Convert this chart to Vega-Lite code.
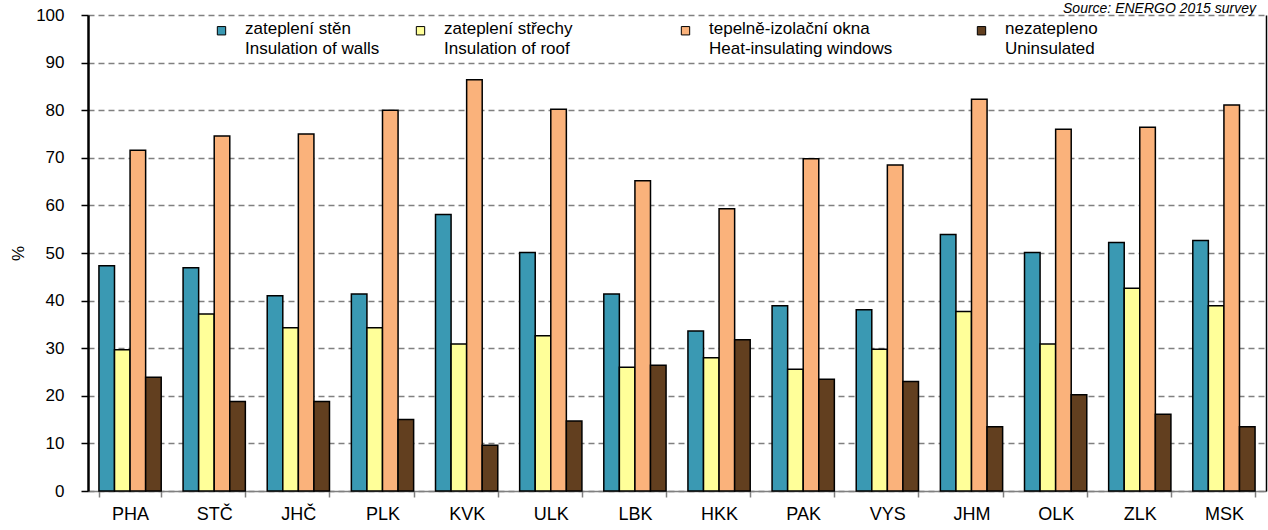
{
  "$schema": "https://vega.github.io/schema/vega-lite/v6.json",
  "width": 1178,
  "height": 476,
  "autosize": {"type": "none"},
  "padding": {"left": 88, "top": 15, "right": 2, "bottom": 39},
  "title": {
    "text": "Source: ENERGO 2015 survey",
    "anchor": "end",
    "frame": "group",
    "fontStyle": "italic",
    "fontWeight": "normal",
    "fontSize": 14,
    "color": "black",
    "offset": 1,
    "dx": -10,
    "dy": 11
  },
  "data": {
    "values": [
      {"region": "PHA", "series": "zateplení stěn", "value": 47.3},
      {"region": "PHA", "series": "zateplení střechy", "value": 29.7},
      {"region": "PHA", "series": "tepelně-izolační okna", "value": 71.6},
      {"region": "PHA", "series": "nezatepleno", "value": 23.9},
      {"region": "STČ", "series": "zateplení stěn", "value": 46.9},
      {"region": "STČ", "series": "zateplení střechy", "value": 37.2},
      {"region": "STČ", "series": "tepelně-izolační okna", "value": 74.6},
      {"region": "STČ", "series": "nezatepleno", "value": 18.8},
      {"region": "JHČ", "series": "zateplení stěn", "value": 41.0},
      {"region": "JHČ", "series": "zateplení střechy", "value": 34.3},
      {"region": "JHČ", "series": "tepelně-izolační okna", "value": 75.0},
      {"region": "JHČ", "series": "nezatepleno", "value": 18.8},
      {"region": "PLK", "series": "zateplení stěn", "value": 41.4},
      {"region": "PLK", "series": "zateplení střechy", "value": 34.3},
      {"region": "PLK", "series": "tepelně-izolační okna", "value": 80.0},
      {"region": "PLK", "series": "nezatepleno", "value": 15.0},
      {"region": "KVK", "series": "zateplení stěn", "value": 58.1},
      {"region": "KVK", "series": "zateplení střechy", "value": 30.9},
      {"region": "KVK", "series": "tepelně-izolační okna", "value": 86.4},
      {"region": "KVK", "series": "nezatepleno", "value": 9.6},
      {"region": "ULK", "series": "zateplení stěn", "value": 50.1},
      {"region": "ULK", "series": "zateplení střechy", "value": 32.6},
      {"region": "ULK", "series": "tepelně-izolační okna", "value": 80.2},
      {"region": "ULK", "series": "nezatepleno", "value": 14.7},
      {"region": "LBK", "series": "zateplení stěn", "value": 41.4},
      {"region": "LBK", "series": "zateplení střechy", "value": 26.0},
      {"region": "LBK", "series": "tepelně-izolační okna", "value": 65.2},
      {"region": "LBK", "series": "nezatepleno", "value": 26.4},
      {"region": "HKK", "series": "zateplení stěn", "value": 33.6},
      {"region": "HKK", "series": "zateplení střechy", "value": 28.0},
      {"region": "HKK", "series": "tepelně-izolační okna", "value": 59.3},
      {"region": "HKK", "series": "nezatepleno", "value": 31.8},
      {"region": "PAK", "series": "zateplení stěn", "value": 38.9},
      {"region": "PAK", "series": "zateplení střechy", "value": 25.6},
      {"region": "PAK", "series": "tepelně-izolační okna", "value": 69.8},
      {"region": "PAK", "series": "nezatepleno", "value": 23.5},
      {"region": "VYS", "series": "zateplení stěn", "value": 38.1},
      {"region": "VYS", "series": "zateplení střechy", "value": 29.8},
      {"region": "VYS", "series": "tepelně-izolační okna", "value": 68.5},
      {"region": "VYS", "series": "nezatepleno", "value": 23.0},
      {"region": "JHM", "series": "zateplení stěn", "value": 53.9},
      {"region": "JHM", "series": "zateplení střechy", "value": 37.7},
      {"region": "JHM", "series": "tepelně-izolační okna", "value": 82.3},
      {"region": "JHM", "series": "nezatepleno", "value": 13.5},
      {"region": "OLK", "series": "zateplení stěn", "value": 50.1},
      {"region": "OLK", "series": "zateplení střechy", "value": 30.9},
      {"region": "OLK", "series": "tepelně-izolační okna", "value": 76.0},
      {"region": "OLK", "series": "nezatepleno", "value": 20.2},
      {"region": "ZLK", "series": "zateplení stěn", "value": 52.2},
      {"region": "ZLK", "series": "zateplení střechy", "value": 42.6},
      {"region": "ZLK", "series": "tepelně-izolační okna", "value": 76.4},
      {"region": "ZLK", "series": "nezatepleno", "value": 16.1},
      {"region": "MSK", "series": "zateplení stěn", "value": 52.6},
      {"region": "MSK", "series": "zateplení střechy", "value": 38.9},
      {"region": "MSK", "series": "tepelně-izolační okna", "value": 81.1},
      {"region": "MSK", "series": "nezatepleno", "value": 13.5}
    ]
  },
  "layer": [
    {
      "mark": {"type": "bar", "stroke": "black", "strokeWidth": 1.5, "strokeJoin": "miter"},
      "encoding": {
        "x": {
          "field": "region",
          "type": "nominal",
          "sort": null,
          "scale": {"paddingInner": 0.26, "paddingOuter": 0.13},
          "axis": {
            "title": null,
            "labelAngle": 0,
            "labelFontSize": 18,
            "labelColor": "black",
            "labelPadding": 8,
            "domainColor": "#808080",
            "domainWidth": 1.5,
            "tickColor": "#808080",
            "tickWidth": 1.5,
            "tickSize": 6,
            "tickBand": "extent",
            "grid": false
          }
        },
        "xOffset": {
          "field": "series",
          "type": "nominal",
          "sort": ["zateplení stěn", "zateplení střechy", "tepelně-izolační okna", "nezatepleno"],
          "scale": {"paddingInner": 0, "paddingOuter": 0}
        },
        "y": {
          "field": "value",
          "type": "quantitative",
          "scale": {"domain": [0, 100], "nice": false},
          "axis": {
            "title": "%",
            "titleFontSize": 17,
            "titleFontWeight": "normal",
            "titleColor": "black",
            "titlePadding": 8,
            "values": [0, 10, 20, 30, 40, 50, 60, 70, 80, 90, 100],
            "labelFontSize": 17,
            "labelColor": "black",
            "labelPadding": 17,
            "domainColor": "black",
            "domainWidth": 2.5,
            "tickColor": "black",
            "tickWidth": 1.5,
            "tickSize": 7,
            "grid": true,
            "gridColor": "#808080",
            "gridWidth": 1.5,
            "gridDash": [6, 4]
          }
        },
        "color": {
          "field": "series",
          "type": "nominal",
          "sort": ["zateplení stěn", "zateplení střechy", "tepelně-izolační okna", "nezatepleno"],
          "scale": {
            "domain": ["zateplení stěn", "zateplení střechy", "tepelně-izolační okna", "nezatepleno"],
            "range": ["#3A99B3", "#FFFF99", "#FAB27B", "#623F1F"]
          },
          "legend": {
            "orient": "none",
            "legendX": 125,
            "legendY": 7,
            "direction": "horizontal",
            "columns": 4,
            "title": null,
            "padding": 0,
            "symbolType": "square",
            "symbolSize": 70,
            "symbolStrokeColor": "black",
            "symbolStrokeWidth": 1,
            "labelFontSize": 17,
            "labelColor": "black",
            "labelOffset": 15,
            "labelLimit": 400,
            "labelBaseline": "top",
            "columnPadding": 32,
            "labelExpr": "datum.label == 'zateplení stěn' ? ['zateplení stěn', 'Insulation of walls'] : datum.label == 'zateplení střechy' ? ['zateplení střechy\u2800\u2800\u2800\u2800\u2800\u2800', 'Insulation of roof'] : datum.label == 'tepelně-izolační okna' ? ['tepelně-izolační okna', 'Heat-insulating windows\u2800\u2800\u2800\u2800'] : ['nezatepleno', 'Uninsulated']",
            "encode": {
              "labels": {"update": {"lineHeight": {"value": 20}, "dy": {"value": -10}}}
            }
          }
        }
      }
    },
    {
      "mark": {"type": "tick", "opacity": 0},
      "encoding": {
        "y": {
          "field": "value",
          "type": "quantitative",
          "scale": {"domain": [0, 100], "nice": false},
          "axis": {
            "orient": "right",
            "title": null,
            "labels": false,
            "ticks": false,
            "grid": false,
            "domainColor": "black",
            "domainWidth": 1.5
          }
        }
      }
    }
  ],
  "resolve": {"axis": {"y": "independent"}},
  "config": {
    "font": "Liberation Sans",
    "view": {"stroke": null},
    "background": "white"
  }
}
